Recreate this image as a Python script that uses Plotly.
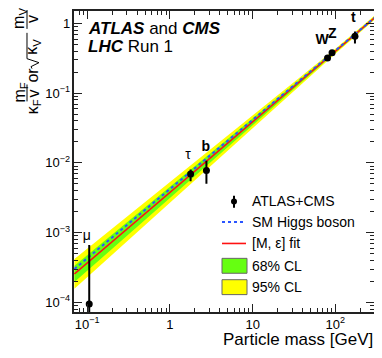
import plotly.graph_objects as go

# ---------------------------------------------------------------- data
# measured points (GeV, reduced coupling)
part = ["mu", "tau", "b", "W", "Z", "t"]
mass = [0.1057, 1.777, 2.76, 80.4, 91.2, 172.5]
coup = [9.4e-5, 6.9e-3, 7.8e-3, 0.32, 0.38, 0.655]
err_up = [5.5e-4, 0.9e-3, 2.6e-3, 0.02, 0.02, 0.09]
err_dn = [9.3e-5, 1.25e-3, 2.6e-3, 0.02, 0.02, 0.12]

# SM expectation and [M, eps] fit
sm_x = [0.07, 300]
sm_y = [3.0e-4, 1.22]
band_x = [0.07, 1, 10, 100, 300]
fit_y = [2.55e-4, 3.78e-3, 3.89e-2, 0.401, 1.22]
g_up = [3.33e-4, 4.52e-3, 4.34e-2, 0.418, 1.26]
g_lo = [1.96e-4, 3.16e-3, 3.49e-2, 0.385, 1.17]
y_up = [4.18e-4, 5.33e-3, 4.79e-2, 0.435, 1.31]
y_lo = [1.56e-4, 2.67e-3, 3.16e-2, 0.370, 1.14]

lab_text = ["μ", "τ", "<b>b</b>", "<b>W</b>", "<b>Z</b>", "<b>t</b>"]
lab_x = [0.099, 1.65, 2.71, 69, 92, 165]
lab_y = [8.8e-4, 1.27e-2, 1.67e-2, 0.58, 0.70, 1.2]

# ---------------------------------------------------------------- style
FONT = "Liberation Sans, Arial, Helvetica, sans-serif"
GREEN, YELLOW, BLUE, RED = "#66ff11", "#ffff00", "#2a55ff", "#ff1111"
OFF = 8                          # page body margin
FW, FH = 382 - OFF, 358 - OFF    # figure size
L, T, W, H = 74, 9, 300, 303     # plot area in page pixels


def px(x):
    return (x - L) / W


def py(y):
    return (T + H - y) / H


fig = go.Figure()

# bands
fig.add_trace(go.Scatter(x=band_x, y=y_lo, mode="lines", line=dict(width=0),
                         showlegend=False, hoverinfo="skip"))
fig.add_trace(go.Scatter(x=band_x, y=y_up, mode="lines", line=dict(width=0),
                         fill="tonexty", fillcolor=YELLOW, showlegend=False, hoverinfo="skip"))
fig.add_trace(go.Scatter(x=band_x, y=g_lo, mode="lines", line=dict(width=0),
                         showlegend=False, hoverinfo="skip"))
fig.add_trace(go.Scatter(x=band_x, y=g_up, mode="lines", line=dict(width=0),
                         fill="tonexty", fillcolor=GREEN, showlegend=False, hoverinfo="skip"))

# fit + SM lines
fig.add_trace(go.Scatter(x=band_x, y=fit_y, mode="lines", line=dict(color=RED, width=1.6),
                         showlegend=False))
fig.add_trace(go.Scatter(x=sm_x, y=sm_y, mode="lines",
                         line=dict(color=BLUE, width=2, dash="dot"), showlegend=False))

# data points
fig.add_trace(go.Scatter(
    x=mass, y=coup, mode="markers", marker=dict(color="black", size=7),
    error_y=dict(type="data", symmetric=False, array=err_up, arrayminus=err_dn,
                 color="black", thickness=2, width=1),
    showlegend=False))

# particle labels
fig.add_trace(go.Scatter(x=lab_x, y=lab_y, mode="text", text=lab_text,
                         textfont=dict(size=14, color="black", family=FONT),
                         showlegend=False, hoverinfo="skip"))

ax = dict(type="log", showline=True, linecolor="#222", linewidth=1.5, mirror="allticks",
          ticks="inside", ticklen=8, tickwidth=1, tickcolor="#222", showgrid=False,
          zeroline=False, dtick=1, exponentformat="power",
          tickfont=dict(size=10.4, color="black", family=FONT),
          minor=dict(ticks="inside", ticklen=4, dtick="D1", tickcolor="#222", showgrid=False))
fig.update_xaxes(**ax, range=[-1.16, 2.467])
fig.update_yaxes(**ax, range=[-4.14, 0.18])

ann = []
shp = []


def txt(s, x, y, size=14, anchor="left", angle=0):
    ann.append(dict(text=s, x=px(x), y=py(y), xref="paper", yref="paper", showarrow=False,
                    xanchor=anchor, yanchor="middle", textangle=angle,
                    font=dict(size=size, color="black", family=FONT)))


def seg(x0, y0, x1, y1, color="black", width=1, dash="solid"):
    shp.append(dict(type="line", xref="paper", yref="paper", x0=px(x0), y0=py(y0),
                    x1=px(x1), y1=py(y1), line=dict(color=color, width=width, dash=dash)))


# header
txt("<b><i>ATLAS</i></b> and <b><i>CMS</i></b>", 86, 27, 17)
txt("<b><i>LHC</i></b> Run 1", 86, 45, 17)

# x title
txt("Particle mass [GeV]", 375, 340, 17, anchor="right")

# y title (rotated pieces)
for s, x, y in [("m<sub>F</sub>", 20, 91), ("v", 33, 92), ("κ<sub>F</sub>", 33, 106),
                ("or", 33, 74), ("κ<sub>V</sub>", 33, 45), ("m<sub>V</sub>", 20, 17),
                ("v", 33, 17)]:
    txt(s, x, y, 16, anchor="center", angle=-90)
seg(27, 83, 27, 100)
seg(27, 8, 27, 27)
rad = [(32, 67), (31, 65), (39, 61), (27, 57), (27, 31)]
shp.append(dict(type="path", xref="paper", yref="paper",
                path="M" + " L".join(f"{px(a):.4f},{py(b):.4f}" for a, b in rad),
                line=dict(color="black", width=1)))

# legend
shp.append(dict(type="circle", xref="paper", yref="paper", x0=px(231), x1=px(237),
                y0=py(203.7), y1=py(197.7), fillcolor="black", line=dict(width=0)))
seg(234, 195, 234, 207, width=2)
seg(222, 221.3, 246, 221.3, color=BLUE, width=2, dash="dot")
seg(222, 243, 246, 243, color=RED, width=1.6)
for y0, c in [(258, GREEN), (279.5, YELLOW)]:
    shp.append(dict(type="rect", xref="paper", yref="paper", x0=px(222), x1=px(247),
                    y0=py(y0), y1=py(y0 + 15), fillcolor=c, line=dict(color="#666", width=1)))
for s, y in [("ATLAS+CMS", 200.7), ("SM Higgs boson", 221.3), ("[M, ε] fit", 243),
             ("68% CL", 265.5), ("95% CL", 287)]:
    txt(s, 250, y, 14)

fig.update_layout(width=FW, height=FH, autosize=False,
                  margin=dict(l=L - OFF, r=FW - (L - OFF) - W, t=T - OFF, b=FH - (T - OFF) - H),
                  paper_bgcolor="white", plot_bgcolor="white", showlegend=False,
                  font=dict(family=FONT, color="black"),
                  annotations=ann, shapes=shp)

fig.write_html("out.html")
